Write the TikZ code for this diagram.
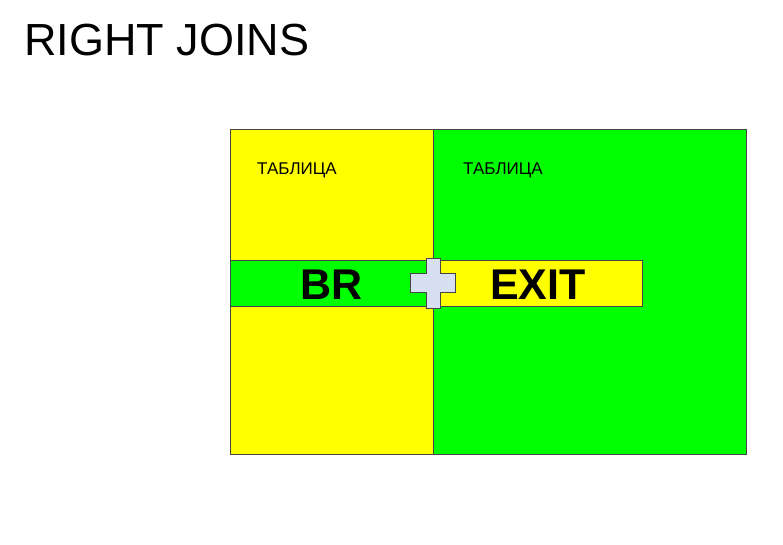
\documentclass[tikz,border=0pt]{standalone}
\usepackage{fontspec}
\setmainfont{Liberation Sans}
\usepackage{tikz}
\usetikzlibrary{positioning}
\definecolor{JoinYellow}{RGB}{255,255,  0}
\definecolor{JoinGreen} {RGB}{  0,255,  0}
\definecolor{JoinPlus}  {RGB}{214,224,240}
\definecolor{JoinEdge}  {RGB}{ 70, 70, 70}
\begin{document}
\begin{tikzpicture}[x=1pt,y=-1pt,
    tablebox/.style={draw=JoinEdge, line width=0.9pt},
    tablelabel/.style={anchor=west, inner sep=0pt, font=\fontsize{17}{17}\selectfont},
    keylabel/.style={inner sep=0pt, font=\fontsize{43}{43}\selectfont\bfseries}]
  \useasboundingbox (0,0) rectangle (783,544);
  % title
  \node[anchor=west, inner sep=0pt, font=\fontsize{45}{45}\selectfont]
    (title) at (24,40) {RIGHT JOINS};
  % the two tables
  \fill[JoinYellow] (230,129) rectangle (433,454);
  \fill[JoinGreen]  (433,129) rectangle (746,454);
  \draw[tablebox]   (230,129) rectangle (746,454);
  \draw[tablebox]   (433,129) -- (433,454);
  \node[tablelabel] (tabA) at (257,170) {ТАБЛИЦА};
  \node[tablelabel] (tabB) at (463,170) {ТАБЛИЦА};
  % key bands
  \fill[JoinGreen]  (230,260) rectangle (433,306);
  \fill[JoinYellow] (433,260) rectangle (642,306);
  \draw[tablebox]   (230,260) rectangle (642,306);
  \draw[tablebox]   (433,260) -- (433,306);
  \node[keylabel] (br)   at (332,285) {BR};
  \node[keylabel] (exit) at (538,285) {EXIT};
  % plus sign
  \filldraw[fill=JoinPlus, draw=JoinEdge, line width=0.6pt]
    (426,258) -- (440,258) -- (440,273) -- (455,273) -- (455,292)
    -- (440,292) -- (440,308) -- (426,308) -- (426,292) -- (410,292)
    -- (410,273) -- (426,273) -- cycle;
\end{tikzpicture}
\end{document}
